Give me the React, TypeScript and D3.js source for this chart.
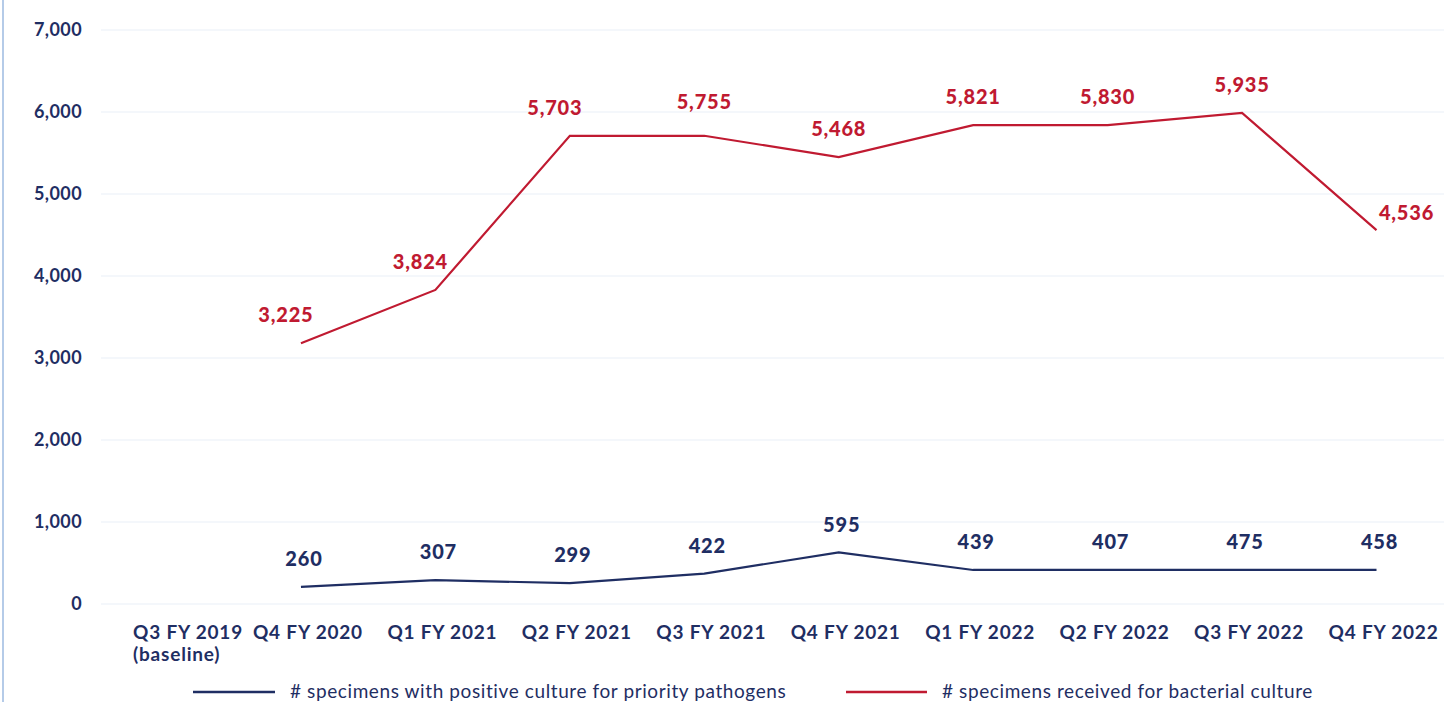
import React, { useEffect } from 'react';
import * as d3 from 'd3';

const categories = [
  'Q3 FY 2019', 'Q4 FY 2020', 'Q1 FY 2021', 'Q2 FY 2021', 'Q3 FY 2021',
  'Q4 FY 2021', 'Q1 FY 2022', 'Q2 FY 2022', 'Q3 FY 2022', 'Q4 FY 2022',
];
// plotted positions as drawn in the source chart
const receivedValues = [null, 3180, 3830, 5710, 5710, 5450, 5840, 5840, 5990, 4560];
const positiveValues = [null, 210, 290, 255, 370, 630, 415, 415, 415, 415];
// printed data labels
const receivedLabels = [null, 3225, 3824, 5703, 5755, 5468, 5821, 5830, 5935, 4536];
const positiveLabels = [null, 260, 307, 299, 422, 595, 439, 407, 475, 458];
const yTicks = [0, 1000, 2000, 3000, 4000, 5000, 6000, 7000];

const NAVY = '#1f2e63';
const RED = '#c01a31';
const FONT = 'Lato, "Open Sans", sans-serif';

const W = 1444;
const H = 702;

const App = () => {
  useEffect(() => {
    document.body.style.margin = '0';
  }, []);

  const x = d3.scalePoint<string>().domain(categories).range([166.5, 1376.5]);
  const y = d3.scaleLinear().domain([0, 7000]).range([604, 30]);
  const fmt = d3.format(',');

  const line = d3.line<[string, number | null]>()
    .defined(d => d[1] != null)
    .x(d => x(d[0]) as number)
    .y(d => y(d[1] as number));

  const redPath = line(categories.map((c, i) => [c, receivedValues[i]]));
  const bluePath = line(categories.map((c, i) => [c, positiveValues[i]]));

  const tickStyle = { font: `bold 19px ${FONT}`, letterSpacing: '0.8px' };
  const labelStyle = { font: `900 20px ${FONT}`, letterSpacing: '0.8px' };
  const legendStyle = { font: `19px ${FONT}`, letterSpacing: '0.6px' };

  return (
    <svg width={W} height={H} style={{ display: 'block', background: '#fff' }}>
      <line x1={3} x2={3} y1={0} y2={H} stroke="#b5cbe8" strokeWidth={2} />

      {/* gridlines + y ticks */}
      {yTicks.map(t => (
        <g key={t}>
          <line x1={101} x2={W} y1={y(t)} y2={y(t)} stroke="#f0f4fa" strokeWidth={1.6} />
          <text x={82} y={y(t)} dy="0.36em" textAnchor="end" fill={NAVY}
            style={{ font: `bold 18px ${FONT}`, letterSpacing: '0.4px' }}>{fmt(t)}</text>
        </g>
      ))}

      {/* x ticks */}
      {categories.map((c, i) => i === 0 ? (
        <text key={c} x={133} y={639} textAnchor="start" fill={NAVY} style={tickStyle}>
          <tspan x={133}>{c}</tspan>
          <tspan x={133} dy={22}>(baseline)</tspan>
        </text>
      ) : (
        <text key={c} x={(x(c) as number) + 7} y={639} textAnchor="middle" fill={NAVY}
          style={tickStyle}>{c}</text>
      ))}

      <path d={redPath || ''} fill="none" stroke={RED} strokeWidth={2.2} />
      <path d={bluePath || ''} fill="none" stroke={NAVY} strokeWidth={2.2} />

      {/* data labels */}
      {categories.map((c, i) => receivedLabels[i] == null ? null : (
        <text key={'r' + c}
          x={(x(c) as number) + (i === 9 ? 30 : i <= 3 ? -15 : 0)}
          y={y(receivedValues[i] as number) - (i === 9 ? 17 : i === 4 ? 34 : 28)}
          dy="0.36em" textAnchor="middle" fill={RED}
          style={labelStyle}>{fmt(receivedLabels[i] as number)}</text>
      ))}
      {categories.map((c, i) => positiveLabels[i] == null ? null : (
        <text key={'b' + c} x={(x(c) as number) + 3} y={y(positiveValues[i] as number) - 28}
          dy="0.36em" textAnchor="middle" fill={NAVY}
          style={labelStyle}>{fmt(positiveLabels[i] as number)}</text>
      ))}

      {/* legend */}
      <line x1={193} x2={275} y1={692} y2={692} stroke={NAVY} strokeWidth={2.5} />
      <text x={290} y={698} fill={NAVY} style={legendStyle}>
        # specimens with positive culture for priority pathogens
      </text>
      <line x1={846} x2={927} y1={692} y2={692} stroke={RED} strokeWidth={2.5} />
      <text x={942} y={698} fill={NAVY} style={legendStyle}>
        # specimens received for bacterial culture
      </text>
    </svg>
  );
};

export default App;
